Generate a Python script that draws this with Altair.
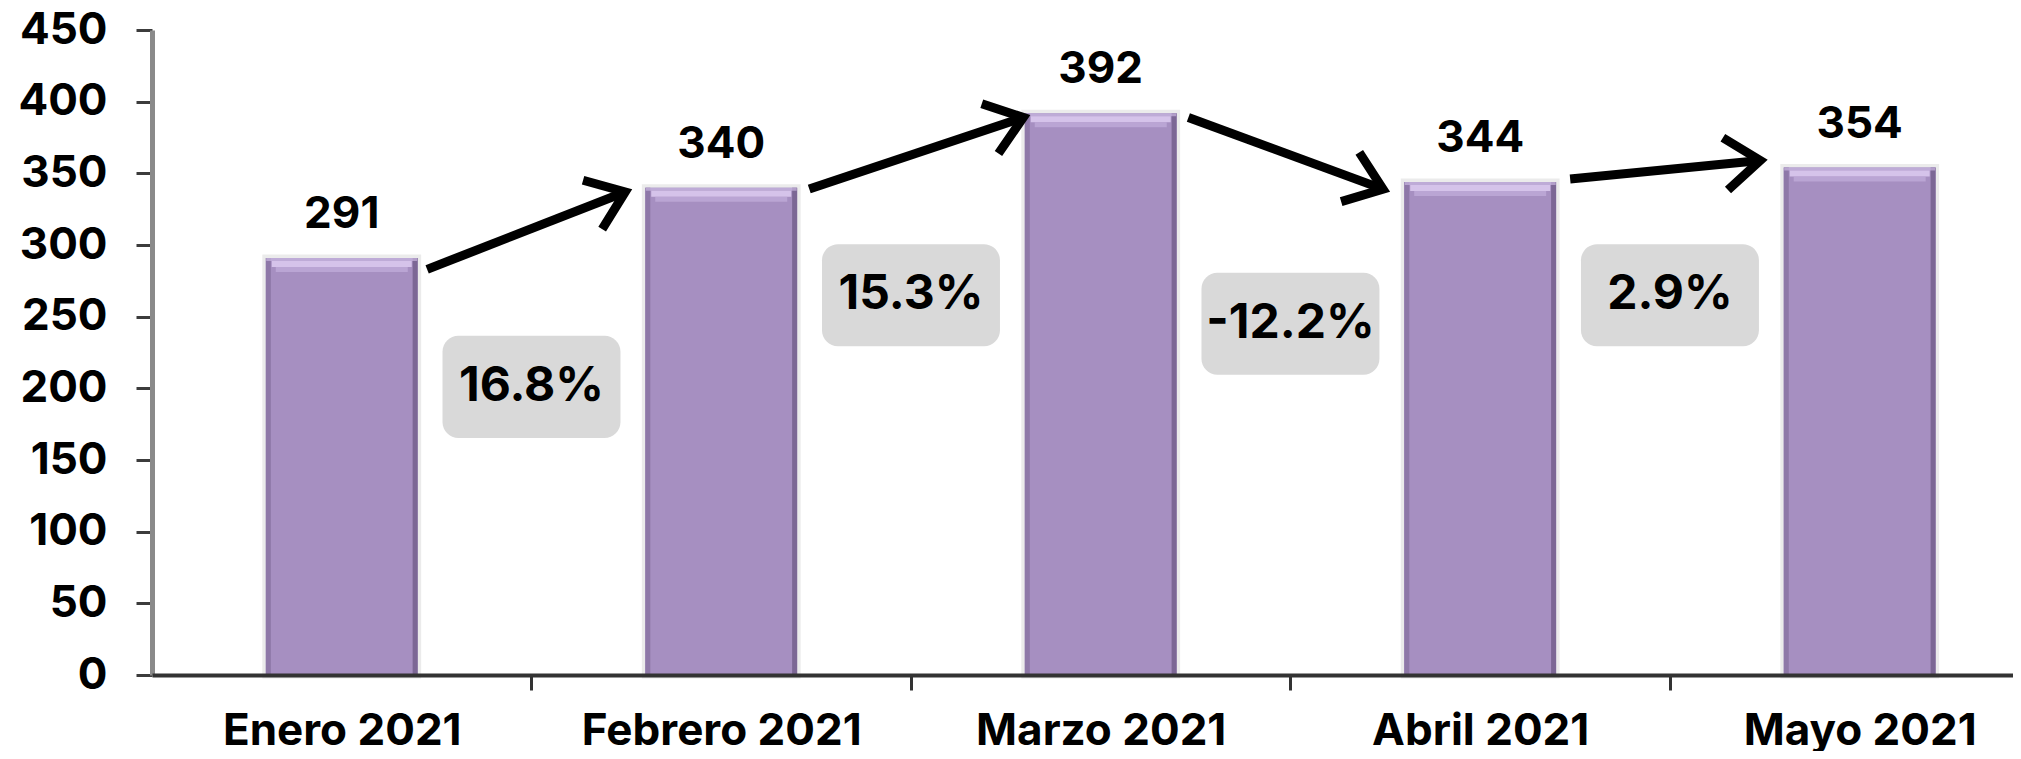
import json
import math
import altair as alt
import pandas as pd

# ---------------- data ----------------
months = ["Enero 2021", "Febrero 2021", "Marzo 2021", "Abril 2021", "Mayo 2021"]
values = [291, 340, 392, 344, 354]

badge_text = ["16.8%", "15.3%", "-12.2%", "2.9%"]
badge_pos = [0.5, 1.5, 2.5, 3.5]          # between consecutive months
badge_y = [201, 265, 245, 265]            # centre of each badge, in value units

arrow_x0 = [0.225, 1.232, 2.231, 3.237]
arrow_x1 = [0.747, 1.796, 2.744, 3.738]
arrow_y0 = [283, 339, 389, 346]
arrow_y1 = [337, 389, 339, 359]

# ---------------- layout ----------------
PLOT_W, PLOT_H = 1861, 645
X_MIN, X_MAX = -0.5, 4.404
Y_MAX = 450
KX = PLOT_W / (X_MAX - X_MIN)
KY = PLOT_H / Y_MAX

FONT = "Inter"

bars_df = pd.DataFrame({"idx": list(range(len(months))), "month": months, "value": values})
badge_df = pd.DataFrame({"pos": badge_pos, "label": badge_text, "yc": badge_y})
angles = []
for a, b, c, d in zip(arrow_x0, arrow_x1, arrow_y0, arrow_y1):
    ang = math.degrees(math.atan2(-(d - c) * KY, (b - a) * KX))
    angles.append((ang + 360) % 360)
arrow_df = pd.DataFrame({"x0": arrow_x0, "x1": arrow_x1, "y0": arrow_y0, "y1": arrow_y1, "ang": angles})

xscale = alt.Scale(domain=[X_MIN, X_MAX], nice=False, zero=False)
yscale = alt.Scale(domain=[0, Y_MAX], nice=False)

label_expr = "datum.value % 1 === 0 ? " + json.dumps(months) + "[datum.value] : ''"

xaxis = alt.Axis(
    values=[0, 0.5, 1, 1.5, 2, 2.5, 3, 3.5, 4],
    labelExpr=label_expr,
    title=None, grid=False,
    tickSize=15, tickWidth=3, tickColor="#333333",
    tickOpacity={"condition": {"test": "datum.value % 1 === 0", "value": 0}, "value": 1},
    domainColor="#333333", domainWidth=4,
    labelFont=FONT, labelFontSize=44, labelFontWeight="bold", labelColor="#000000",
    labelPadding=19, labelOverlap=False, labelFlush=False, labelBound=False,
    labelLimit=0,
    zindex=1,
)
yaxis = alt.Axis(
    values=list(range(0, 451, 50)),
    title=None, grid=False,
    tickSize=16, tickWidth=3, tickColor="#3c3c3c",
    domainColor="#8a8a8a", domainWidth=5,
    labelFont=FONT, labelFontSize=44, labelFontWeight="bold", labelColor="#000000",
    labelPadding=29, labelFlush=False, labelOverlap=False, labelLimit=0,
)


def X(f):
    return alt.X(f, type="quantitative", scale=xscale, axis=xaxis)


def Y(f):
    return alt.Y(f, type="quantitative", scale=yscale, axis=yaxis)


base = alt.Chart(bars_df).transform_calculate(
    x0="datum.idx - 0.2", x1="datum.idx + 0.2", zero="0"
)

shadow = base.mark_bar(color="#a68fc1", stroke="#dedede", strokeWidth=7, strokeOpacity=0.6).encode(
    x=X("x0:Q"), x2="x1:Q", y=Y("value:Q"), y2="zero:Q"
)
bars = base.mark_bar(color="#a68fc1").encode(
    x=X("x0:Q"), x2="x1:Q", y=Y("value:Q"), y2="zero:Q"
)
left_edge = base.mark_rule(color="#8e78a8", strokeWidth=5, xOffset=2.5).encode(
    x=X("x0:Q"), y=Y("value:Q"), y2="zero:Q"
)
right_edge = base.mark_rule(color="#7c6795", strokeWidth=5, xOffset=-2.5).encode(
    x=X("x1:Q"), y=Y("value:Q"), y2="zero:Q"
)
top_edge = base.mark_tick(orient="horizontal", color="#c9b6df", thickness=3, size=151, yOffset=1.5).encode(
    x=X("idx:Q"), y=Y("value:Q")
)
top_glow = base.mark_tick(orient="horizontal", color="#ead8fb", thickness=6, size=140, yOffset=6).encode(
    x=X("idx:Q"), y=Y("value:Q")
)
top_fade = base.mark_tick(orient="horizontal", color="#c3aedb", thickness=5, size=132, yOffset=11.5).encode(
    x=X("idx:Q"), y=Y("value:Q")
)
value_labels = base.mark_text(
    font=FONT, fontSize=44, fontWeight="bold", color="#000000", baseline="alphabetic", dy=-30
).encode(x=X("idx:Q"), y=Y("value:Q"), text="value:Q")

badge_box = alt.Chart(badge_df).transform_calculate(
    bx0="datum.pos - 0.2345", bx1="datum.pos + 0.2345",
    by0="datum.yc - 35.6", by1="datum.yc + 35.6",
).mark_rect(color="#d9d9d9", cornerRadius=16).encode(
    x=X("bx0:Q"), x2="bx1:Q", y=Y("by0:Q"), y2="by1:Q"
)
badge_label = alt.Chart(badge_df).mark_text(
    font=FONT, fontSize=48, fontWeight="bold", color="#000000", baseline="middle"
).encode(x=X("pos:Q"), y=Y("yc:Q"), text="label:N")

arrow_shaft = alt.Chart(arrow_df).mark_rule(color="#000000", strokeWidth=9).encode(
    x=X("x0:Q"), x2="x1:Q", y=Y("y0:Q"), y2="y1:Q"
)
arrow_head = alt.Chart(arrow_df).mark_point(
    shape="M -1 -0.75 L 0 0 L -1 0.75", filled=False, stroke="#000000",
    strokeWidth=9, size=4900, opacity=1, strokeJoin="miter",
).encode(x=X("x1:Q"), y=Y("y1:Q"), angle=alt.Angle("ang:Q", scale=None))

chart = alt.layer(
    shadow, bars, left_edge, right_edge, top_edge, top_glow, top_fade, value_labels,
    badge_box, badge_label, arrow_shaft, arrow_head,
).properties(
    width=PLOT_W, height=PLOT_H,
    autosize=alt.AutoSizeParams(type="none"),
    padding={"left": 144, "top": 22, "right": 0, "bottom": 76},
    background="#ffffff",
).configure_view(stroke=None)

chart.save("out.html", embed_options={"renderer": "svg", "actions": False})
